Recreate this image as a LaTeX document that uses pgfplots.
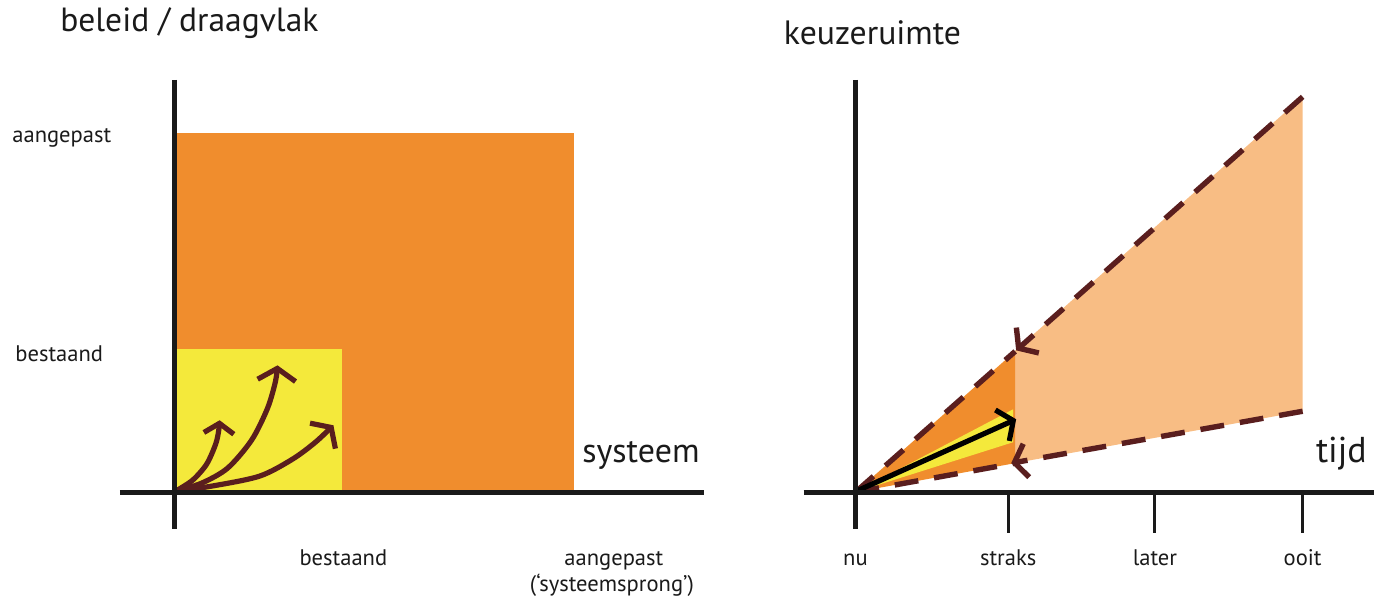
\documentclass[border=0pt]{standalone}
\usepackage{fontspec}
\setmainfont{PT Sans}
\usepackage{pgfplots}
\pgfplotsset{compat=1.18}
\usetikzlibrary{arrows.meta}
\definecolor{orng}{HTML}{F08D2D}
\definecolor{peach}{HTML}{F8BD84}
\definecolor{yel}{HTML}{F4E93B}
\definecolor{brn}{HTML}{5A1E1E}
\definecolor{blk}{HTML}{1A1A1A}
\begin{document}
\begin{tikzpicture}
\begin{axis}[scale only axis, width=688pt, height=300.5pt,
  xmin=0, xmax=1376, ymin=0, ymax=601, y dir=reverse,
  hide axis, clip=false]
% bounding frame
\addplot[draw=none] coordinates {(0,0) (1376,601)};
% ---------- left panel ----------
\addplot[fill=orng, draw=none] coordinates {(175,133) (575,133) (575,493) (175,493)} -- cycle;
\addplot[fill=yel, draw=none] coordinates {(175,350) (343,350) (343,493) (175,493)} -- cycle;
% curved arrows
\addplot[brn, line width=2.6pt, smooth, -{Straight Barb[length=5pt,width=15pt,line width=2.6pt]}]
  coordinates {(176,492) (193,481) (207,465) (216,445) (219,432) (220,421)};
\addplot[brn, line width=2.6pt, smooth, -{Straight Barb[length=6pt,width=19pt,line width=2.6pt]}]
  coordinates {(176,492) (202,484) (228,469) (252,441) (268,409) (276,382) (278,366)};
\addplot[brn, line width=2.6pt, smooth, -{Straight Barb[length=6pt,width=18pt,line width=2.6pt]}]
  coordinates {(176,492) (212,487) (260,477) (293,460) (316,443) (334,426)};
% axis lines
\addplot[blk, line width=2.5pt] coordinates {(175,80) (175,530)};
\addplot[blk, line width=2.5pt] coordinates {(120,493) (705,493)};
% ---------- right panel ----------
\addplot[fill=peach, draw=none] coordinates {(1016,352) (1305,97) (1305,412) (1016,464)} -- cycle;
\addplot[fill=orng, draw=none] coordinates {(857,493) (1017,352) (1017,464)} -- cycle;
\addplot[fill=yel, draw=none] coordinates {(857,493) (1015,410) (1015,443)} -- cycle;
% dashed boundaries
\addplot[brn, line width=2.7pt, dash pattern=on 12pt off 8pt] coordinates {(857,493) (1017,352)};
\addplot[brn, line width=2.7pt, dash pattern=on 12pt off 8pt, -{Straight Barb[length=6pt,width=17pt,line width=2.7pt]}] coordinates {(1305,97) (1018,351)};
\addplot[brn, line width=2.7pt, dash pattern=on 12pt off 8pt] coordinates {(857,493) (1017,464)};
\addplot[brn, line width=2.7pt, dash pattern=on 12pt off 8pt, -{Straight Barb[length=6pt,width=17pt,line width=2.7pt]}] coordinates {(1305,412) (1013,464)};
% black arrow
\addplot[black, line width=2.6pt, -{Straight Barb[length=6pt,width=17pt,line width=2.6pt]}] coordinates {(858,492) (1018,420)};
% axis lines and ticks
\addplot[blk, line width=2.5pt] coordinates {(857,80) (857,530)};
\addplot[blk, line width=2.5pt] coordinates {(805,493) (1376,493)};
\addplot[blk, line width=1.5pt] coordinates {(1010,493) (1010,534)};
\addplot[blk, line width=1.5pt] coordinates {(1157,493) (1157,534)};
\addplot[blk, line width=1.5pt] coordinates {(1305,493) (1305,534)};
% ---------- text ----------
\node[anchor=base west, font=\fontsize{16.8}{18}\selectfont, text=blk, inner sep=0pt] at (axis cs:60,32) {beleid / draagvlak};
\node[anchor=base west, font=\fontsize{16.9}{18}\selectfont, text=blk, inner sep=0pt] at (axis cs:785,45) {keuzeruimte};
\node[anchor=base west, font=\fontsize{11.3}{14}\selectfont, text=blk, inner sep=0pt] at (axis cs:12,143) {aangepast};
\node[anchor=base west, font=\fontsize{11.3}{14}\selectfont, text=blk, inner sep=0pt] at (axis cs:15,362) {bestaand};
\node[anchor=base, font=\fontsize{11.3}{14}\selectfont, text=blk, inner sep=0pt] at (axis cs:344,567) {bestaand};
\node[anchor=base, font=\fontsize{11.3}{14}\selectfont, text=blk, inner sep=0pt] at (axis cs:615,567) {aangepast};
\node[anchor=base, font=\fontsize{11.3}{14}\selectfont, text=blk, inner sep=0pt] at (axis cs:613,593) {(‘systeemsprong’)};
\node[anchor=base west, font=\fontsize{17}{20}\selectfont, text=blk, inner sep=0pt] at (axis cs:583,463) {systeem};
\node[anchor=base west, font=\fontsize{18}{20}\selectfont, text=blk, inner sep=0pt] at (axis cs:1318,463) {tijd};
\node[anchor=base, font=\fontsize{11.3}{14}\selectfont, text=blk, inner sep=0pt] at (axis cs:857,567) {nu};
\node[anchor=base, font=\fontsize{11.3}{14}\selectfont, text=blk, inner sep=0pt] at (axis cs:1010,567) {straks};
\node[anchor=base, font=\fontsize{11.3}{14}\selectfont, text=blk, inner sep=0pt] at (axis cs:1157,567) {later};
\node[anchor=base, font=\fontsize{11.3}{14}\selectfont, text=blk, inner sep=0pt] at (axis cs:1305,567) {ooit};
\end{axis}
\end{tikzpicture}
\end{document}
